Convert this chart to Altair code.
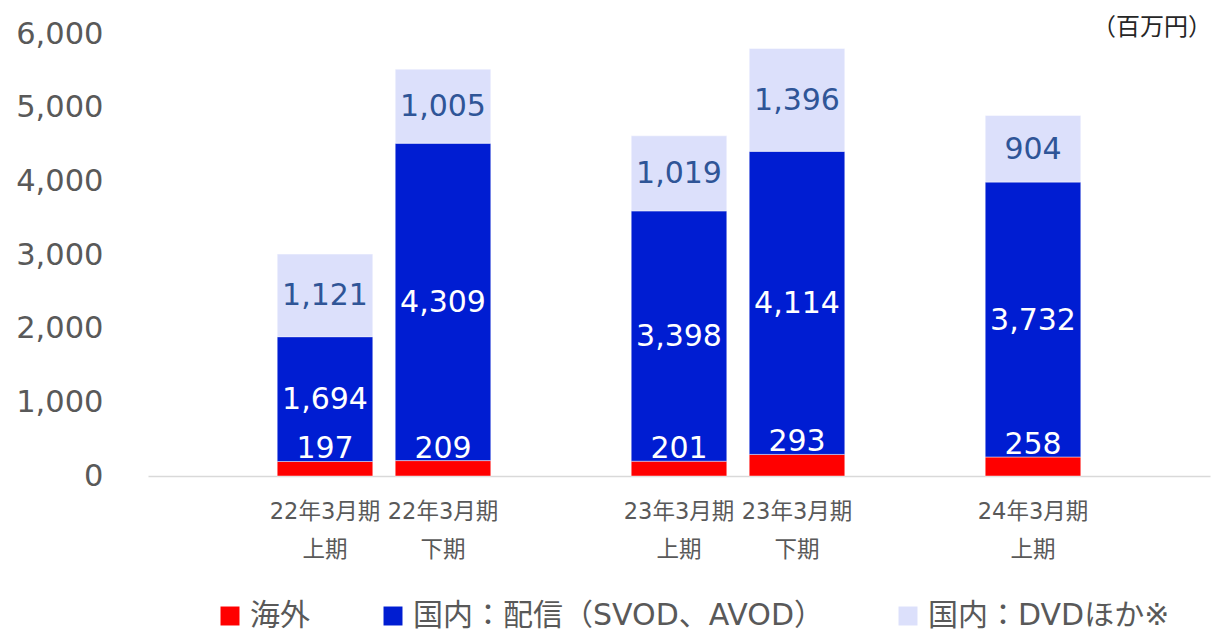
import altair as alt
import pandas as pd

# ---- data ----
periods = ["22年3月期\n上期", "22年3月期\n下期", "23年3月期\n上期", "23年3月期\n下期", "24年3月期\n上期"]
series = ["海外", "国内：配信（SVOD、AVOD）", "国内：DVDほか※"]
overseas = [197, 209, 201, 293, 258]
domestic_stream = [1694, 4309, 3398, 4114, 3732]
domestic_dvd = [1121, 1005, 1019, 1396, 904]
colors = ["#FF0000", "#001DD2", "#DCE0FB"]
# slot order on the x axis (blank slots give the gaps between fiscal years)
slots = ["_0", periods[0], periods[1], "_1", periods[2], periods[3], "_2", periods[4], "_3"]
unit_label = "（百万円）"

rows = []
for i, p in enumerate(periods):
    for k, (s, vals) in enumerate(zip(series, [overseas, domestic_stream, domestic_dvd])):
        rows.append({"period": p, "series": s, "value": vals[i], "ord": k})
df = pd.DataFrame(rows)

FONT = "DejaVu Sans, Noto Sans CJK JP"
x_scale = alt.Scale(domain=slots, paddingInner=0.19, paddingOuter=0.095)
y_scale = alt.Scale(domain=[0, 6000], nice=False)

base = alt.Chart(df).transform_stack(
    stack="value", groupby=["period"], sort=[alt.SortField("ord", order="ascending")], as_=["y0", "y1"]
).transform_calculate(mid="(datum.y0 + datum.y1) / 2")

x_enc = alt.X(
    "period:N",
    scale=x_scale,
    axis=alt.Axis(
        title=None,
        labelExpr="indexof(datum.value, '_') == 0 ? '' : split(datum.value, '\\n')",
        labelAngle=0,
        labelFont=FONT,
        labelFontSize=22.5,
        labelColor="#595959",
        labelLineHeight=38,
        labelPadding=24,
        labelBaseline="top",
        ticks=False,
        domainColor="#D9D9D9",
        domainWidth=1.5,
        grid=False,
    ),
)

bars = base.mark_bar(stroke="#FFFFFF", strokeWidth=1, strokeOpacity=0.45).encode(
    x=x_enc,
    y=alt.Y(
        "y0:Q",
        scale=y_scale,
        axis=alt.Axis(
            title=None,
            values=[0, 1000, 2000, 3000, 4000, 5000, 6000],
            format=",d",
            labelFont=FONT,
            labelFontSize=30.5,
            labelColor="#595959",
            labelPadding=45,
            ticks=False,
            domain=False,
            grid=False,
        ),
    ),
    y2="y1:Q",
    color=alt.Color(
        "series:N",
        scale=alt.Scale(domain=series, range=colors),
        legend=alt.Legend(
            title=None,
            orient="none",
            direction="horizontal",
            legendX=67,
            legendY=567,
            symbolType="square",
            symbolSize=360,
            symbolStrokeWidth=0,
            symbolOpacity=1,
            labelFont=FONT,
            labelFontSize=30,
            labelColor="#595959",
            labelOffset=5,
            columnPadding=68,
            labelLimit=600,
            padding=0,
        ),
    ),
    order=alt.Order("ord:Q", sort="ascending"),
)

labels_mid = base.transform_filter("datum.ord > 0").mark_text(
    font=FONT, fontSize=30, baseline="middle", align="center", dy=1
).encode(
    x=alt.X("period:N", scale=x_scale),
    y=alt.Y("mid:Q", scale=y_scale),
    text=alt.Text("value:Q", format=",d"),
    color=alt.condition("datum.ord == 2", alt.value("#2F5597"), alt.value("#FFFFFF")),
)

labels_low = base.transform_filter("datum.ord == 0").mark_text(
    font=FONT, fontSize=30, baseline="alphabetic", align="center", dy=-3, color="#FFFFFF"
).encode(
    x=alt.X("period:N", scale=x_scale),
    y=alt.Y("y1:Q", scale=y_scale),
    text=alt.Text("value:Q", format=",d"),
)

unit = alt.Chart(pd.DataFrame({"t": [unit_label]})).mark_text(
    font="Noto Sans CJK JP", fontSize=24, align="right", baseline="middle", color="#262626"
).encode(text="t:N", x=alt.value(1064), y=alt.value(-6))

chart = alt.layer(bars, labels_mid, labels_low, unit).properties(
    width=1062,
    height=442,
    autosize=alt.AutoSizeParams(type="none"),
    padding={"left": 148, "top": 34, "right": 7, "bottom": 155},
    background="#FFFFFF",
).configure_view(strokeWidth=0, stroke=None)

chart.save("out.html", embed_options={"renderer": "svg", "actions": False})
